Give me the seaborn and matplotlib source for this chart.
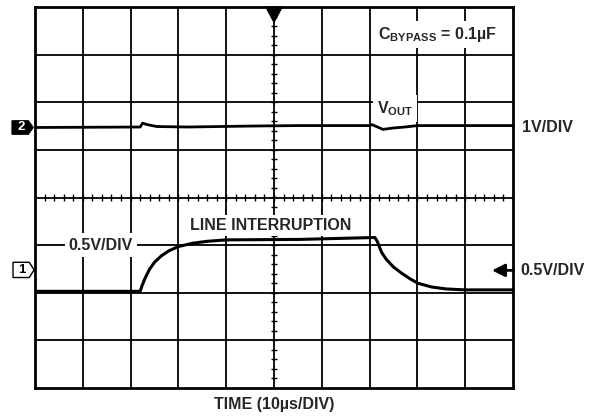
import numpy as np
import pandas as pd
import matplotlib
matplotlib.use("Agg")
import matplotlib.pyplot as plt
from matplotlib.patches import Polygon
import seaborn as sns

## Trace data (x and y in screen divisions, 0 = centre line)
vout_x = [0, 2.2, 2.25, 2.35, 2.55, 3.2, 4.5, 5.5, 7.0, 7.05, 7.28, 7.5, 7.74, 8.0, 10]
vout_y = [1.47, 1.48, 1.56, 1.53, 1.49, 1.48, 1.50, 1.51, 1.51, 1.53, 1.43, 1.46, 1.48, 1.51, 1.51]

vin_x = [0, 2.2, 2.24, 2.3, 2.4, 2.5, 2.65, 2.8, 3.0, 3.3, 3.6, 4.0, 5.54, 7.11,
         7.16, 7.25, 7.35, 7.5, 7.67, 7.85, 8.01, 8.3, 8.6, 9.0, 10]
vin_y = [-1.97, -1.97, -1.85, -1.70, -1.50, -1.36, -1.22, -1.12, -1.03, -0.96, -0.92, -0.89, -0.88, -0.84,
         -0.92, -1.15, -1.30, -1.46, -1.59, -1.71, -1.80, -1.88, -1.92, -1.94, -1.94]

## Style
sns.set_style("white")
plt.rcParams["font.family"] = ["Liberation Sans", "DejaVu Sans"]
plt.rcParams["font.weight"] = "bold"
plt.rcParams["mathtext.fontset"] = "custom"
plt.rcParams["mathtext.rm"] = "Liberation Sans:bold"
plt.rcParams["mathtext.it"] = "Liberation Sans:bold"
plt.rcParams["mathtext.bf"] = "Liberation Sans:bold"

fig = plt.figure(figsize=(5.95, 4.17), dpi=100)
ax = fig.add_axes([35 / 595, 1 - 388 / 417, 478 / 595, 381 / 417])
ax.set_xlim(0, 10)
ax.set_ylim(-4, 4)

## Graticule
for gx in range(1, 10):
    ax.axvline(gx, color="black", lw=1.3, zorder=1)
for gy in range(-3, 4):
    ax.axhline(gy, color="black", lw=1.3, zorder=1)
ticks_x = np.arange(0, 10.01, 0.2)
ticks_y = np.arange(-4, 4.01, 0.2)
ax.vlines(ticks_x, -0.08, 0.08, color="black", lw=1.0, zorder=1)
ax.hlines(ticks_y, 4.93, 5.07, color="black", lw=1.0, zorder=1)
for s in ax.spines.values():
    s.set_linewidth(2)
    s.set_color("black")
ax.set_xticks([])
ax.set_yticks([])

## Traces
df2 = pd.DataFrame({"x": vout_x, "y": vout_y})
df1 = pd.DataFrame({"x": vin_x, "y": vin_y})
sns.lineplot(data=df2, x="x", y="y", ax=ax, color="black", lw=2, sort=False, estimator=None, zorder=5)
sns.lineplot(data=df1, x="x", y="y", ax=ax, color="black", lw=2.2, sort=False, estimator=None, zorder=5)
ax.set_xlabel("")
ax.set_ylabel("")

## Labels with white backgrounds (break the grid lines)
wbox = dict(facecolor="white", edgecolor="none", pad=3)
fs = 11.5
ax.text(8.43, 3.42, r"$\mathrm{C_{BYPASS}}$ = 0.1µF", fontsize=fs, ha="center", va="center",
        bbox=wbox, zorder=3)
ax.text(7.53, 1.87, r"$\mathrm{V_{OUT}}$", fontsize=fs, ha="center", va="center",
        bbox=wbox, zorder=3)
ax.text(1.38, -1.0, "0.5V/DIV", fontsize=fs, ha="center", va="center", bbox=wbox, zorder=3)
ax.text(4.93, -0.59, "LINE INTERRUPTION", fontsize=fs, ha="center", va="center",
        bbox=dict(facecolor="white", edgecolor="none", pad=2), zorder=3)

## Right side labels
ax.text(10.19, 1.47, "1V/DIV", fontsize=fs, ha="left", va="center", clip_on=False)
ax.text(10.15, -1.53, "0.5V/DIV", fontsize=fs, ha="left", va="center", clip_on=False)
ax.annotate("", xy=(9.56, -1.53), xytext=(10.0, -1.53),
            arrowprops=dict(arrowstyle="-|>", color="black", lw=2, mutation_scale=19,
                            shrinkA=0, shrinkB=0), zorder=4)

## Bottom label
ax.text(5, -4.35, "TIME (10µs/DIV)", fontsize=fs, ha="center", va="center", clip_on=False)

## Trigger marker at top
ax.add_patch(Polygon([(4.83, 4.0), (5.17, 4.0), (5.0, 3.68)], closed=True,
                     facecolor="black", edgecolor="black", zorder=6, clip_on=False))

## Channel markers on the left
m2 = Polygon([(-0.48, 1.33), (-0.14, 1.33), (-0.04, 1.47), (-0.14, 1.61), (-0.48, 1.61)],
             closed=True, facecolor="black", edgecolor="black", lw=1, clip_on=False)
ax.add_patch(m2)
ax.text(-0.29, 1.47, "2", color="white", fontsize=9.5, ha="center", va="center", clip_on=False)
m1 = Polygon([(-0.46, -1.36), (-0.12, -1.36), (-0.02, -1.52), (-0.12, -1.68), (-0.46, -1.68)],
             closed=True, facecolor="white", edgecolor="black", lw=1, clip_on=False)
ax.add_patch(m1)
ax.text(-0.28, -1.52, "1", color="black", fontsize=9.5, ha="center", va="center", clip_on=False)

fig.savefig("out.png", dpi=100)
